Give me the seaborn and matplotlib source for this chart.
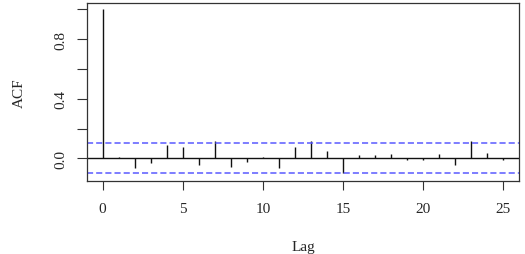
import matplotlib
matplotlib.use("Agg")
import matplotlib.pyplot as plt
import seaborn as sns
import numpy as np
import pandas as pd

lags = list(range(0, 26))
acf = [1.0, 0.007, -0.065, -0.034, 0.092, 0.078, -0.043, 0.119, -0.060, -0.022,
       0.011, -0.065, 0.078, 0.114, 0.047, -0.101, 0.022, 0.022, 0.027, -0.011,
       -0.011, 0.027, -0.047, 0.114, 0.038, -0.013]
ci = 0.1
xticks = [0, 5, 10, 15, 20, 25]
yticks = [0.0, 0.2, 0.4, 0.6, 0.8, 1.0]
ytick_labels = ["0.0", "", "0.4", "", "0.8", ""]

sns.set_style("ticks")
plt.rcParams['font.family'] = ['Liberation Serif', 'DejaVu Serif']

df = pd.DataFrame({"Lag": lags, "ACF": acf})

fig = plt.figure(figsize=(5.25, 2.55), dpi=100)
ax = fig.add_axes([0.165, 0.2875, 0.824, 0.6955])

ax.vlines(df["Lag"], 0, df["ACF"], color="#111111", linewidth=1.0)
sns.lineplot(x=[-1, 26], y=[0, 0], ax=ax, color="#111111", linewidth=1.0)
ax.axhline(ci, color="#5a5aff", linestyle=(0, (4, 2)), linewidth=1.1)
ax.axhline(-ci, color="#5a5aff", linestyle=(0, (4, 2)), linewidth=1.1)

ax.set_xlim(-1, 26)
ax.set_ylim(-0.15, 1.04)
ax.set_xticks(xticks)
ax.set_xticklabels([str(t) for t in xticks], fontsize=11)
ax.set_yticks(yticks)
ax.set_yticklabels(ytick_labels, fontsize=11, rotation=90, va="center")
ax.tick_params(axis="x", length=6.5, width=0.8, color="#333333", pad=9)
ax.tick_params(axis="y", length=7.2, width=0.8, color="#333333", pad=7)
for s in ax.spines.values():
    s.set_visible(True)
    s.set_color("#333333")
    s.set_linewidth(0.9)

ax.set_xlabel("Lag", fontsize=11, labelpad=18)
ax.set_ylabel("ACF", fontsize=11, labelpad=20)

fig.savefig("out.png", dpi=100)
